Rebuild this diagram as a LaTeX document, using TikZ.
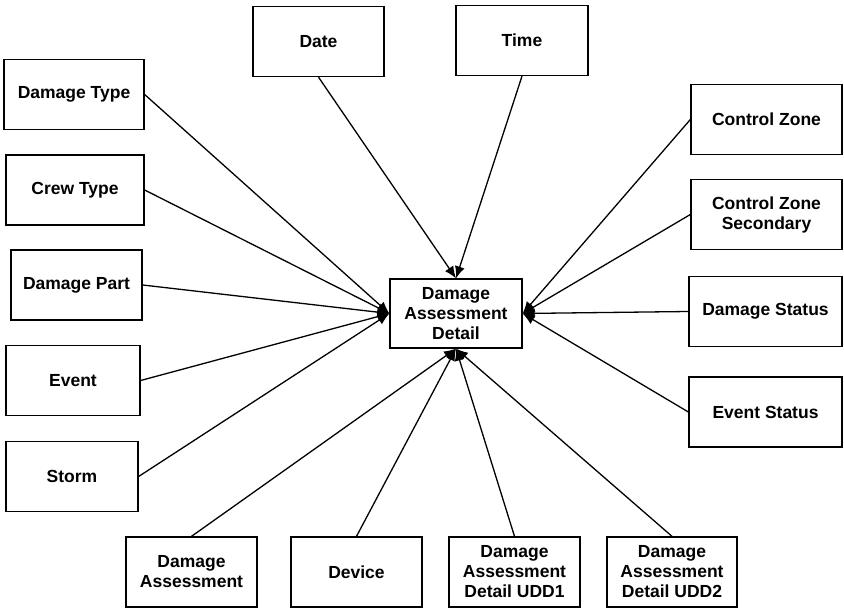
\documentclass[tikz,border=0pt]{standalone}
\usepackage{fontspec}
\setmainfont{Liberation Sans}
\usetikzlibrary{arrows.meta,positioning}

\tikzset{
  entity/.style={draw, line width=1.3pt, minimum height=70pt, align=center,
    font=\fontsize{17.5}{20}\selectfont\bfseries, inner sep=2pt},
  link/.style={->, line width=1.3pt, >={Latex[length=12pt,width=10pt]}}
}

\begin{document}
\begin{tikzpicture}[x=1pt,y=-1pt]
   \useasboundingbox (0,0) rectangle (844,609);
   % hub
   \node [entity, minimum width=132pt, minimum height=69pt] (detail) at (456,313.5) {Damage\\Assessment\\Detail};
   % top
   \node [entity, minimum width=131pt] (date) at (318.5,41.5) {Date};
   \node [entity, minimum width=132pt] (time) at (522,40.5) {Time};
   % left column
   \node [entity, minimum width=140pt] (dtype) at (74,94.5) {Damage Type};
   \node [entity, minimum width=138pt] (crew) at (75,190) {Crew Type};
   \node [entity, minimum width=131pt] (dpart) at (76.5,285) {Damage Part};
   \node [entity, minimum width=134pt] (event) at (73,380.5) {Event};
   \node [entity, minimum width=132pt] (storm) at (72,476.5) {Storm};
   % right column
   \node [entity, minimum width=151pt] (czone) at (766.5,119.5) {Control Zone};
   \node [entity, minimum width=151pt] (czsec) at (766.5,214.5) {Control Zone\\Secondary};
   \node [entity, minimum width=153pt] (dstatus) at (765.5,311.5) {Damage Status};
   \node [entity, minimum width=153pt] (estatus) at (765.5,412) {Event Status};
   % bottom row
   \node [entity, minimum width=131pt] (dassess) at (191.5,572) {Damage\\Assessment};
   \node [entity, minimum width=131pt] (device) at (356.5,572) {Device};
   \node [entity, minimum width=131pt] (udd1) at (514.5,572) {Damage\\Assessment\\Detail UDD1};
   \node [entity, minimum width=130pt] (udd2) at (672,572) {Damage\\Assessment\\Detail UDD2};

   \path[link]
    (date.south) edge (detail.north)
    (time.south) edge (detail.north)
    (dtype.east) edge (detail.west)
    (crew.east) edge (detail.west)
    (dpart.east) edge (detail.west)
    (event.east) edge (detail.west)
    (storm.east) edge (detail.west)
    (czone.west) edge (detail.east)
    (czsec.west) edge (detail.east)
    (dstatus.west) edge (detail.east)
    (estatus.west) edge (detail.east)
    (dassess.north) edge (detail.south)
    (device.north) edge (detail.south)
    (udd1.north) edge (detail.south)
    (udd2.north) edge (detail.south);
\end{tikzpicture}
\end{document}
